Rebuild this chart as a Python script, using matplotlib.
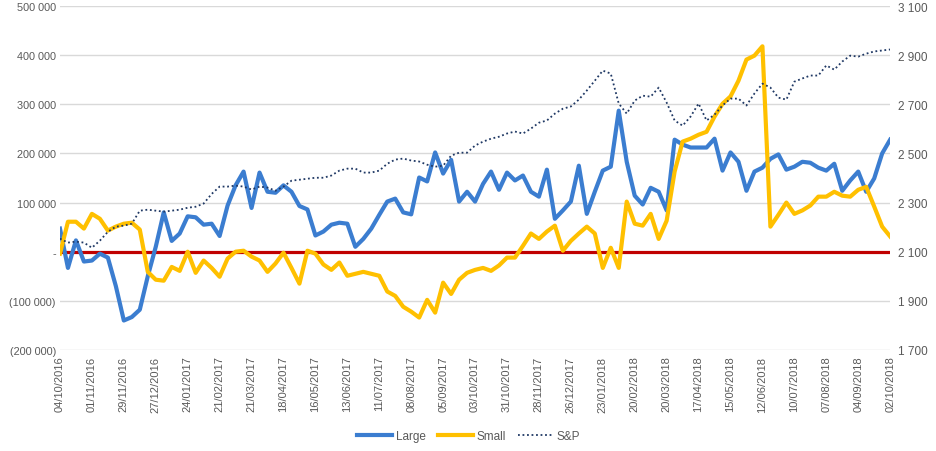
import pandas as pd
import matplotlib
matplotlib.use('Agg')
import matplotlib.pyplot as plt
from matplotlib.ticker import FuncFormatter, FixedLocator

plt.rcParams['font.family'] = ['Liberation Sans', 'DejaVu Sans']

# weekly dates, 04/10/2016 -> 02/10/2018
datas = pd.date_range('2016-10-04', periods=105, freq='7D')
rotulos = [d.strftime('%d/%m/%Y') for d in datas]

large = [47000, -33000, 23000, -20000, -18000, -4000, -12000, -70000, -140000, -133000,
         -118000, -50000, 10000, 80000, 22000, 37000, 72000, 70000, 55000, 57000,
         32000, 94000, 135000, 163000, 89000, 161000, 122000, 120000, 135000, 122000,
         93000, 86000, 33000, 41000, 55000, 59000, 57000, 10000, 26000, 47000,
         75000, 102000, 108000, 80000, 76000, 151000, 143000, 202000, 159000, 187000,
         102000, 122000, 102000, 138000, 163000, 126000, 161000, 145000, 155000, 122000,
         112000, 167000, 67000, 84000, 102000, 175000, 77000, 122000, 165000, 173000,
         287000, 183000, 114000, 96000, 130000, 122000, 84000, 228000, 218000, 212000,
         212000, 212000, 230000, 165000, 202000, 183000, 124000, 163000, 171000, 189000,
         198000, 167000, 173000, 183000, 181000, 171000, 165000, 179000, 124000, 145000,
         163000, 122000, 149000, 200000, 228000]

small = [-4000, 61000, 61000, 47000, 77000, 67000, 43000, 51000, 57000, 59000,
         45000, -41000, -57000, -59000, -31000, -39000, 0, -43000, -18000, -33000,
         -51000, -14000, 0, 2000, -10000, -18000, -41000, -24000, -2000, -33000,
         -65000, 2000, -4000, -26000, -37000, -22000, -49000, -45000, -41000, -45000,
         -49000, -81000, -90000, -112000, -122000, -134000, -98000, -124000, -63000, -86000,
         -57000, -43000, -37000, -33000, -39000, -28000, -12000, -12000, 12000, 37000,
         26000, 41000, 53000, 2000, 22000, 37000, 51000, 37000, -33000, 8000,
         -33000, 102000, 57000, 53000, 77000, 26000, 63000, 163000, 224000, 230000,
         238000, 244000, 275000, 301000, 316000, 348000, 391000, 399000, 418000, 51000,
         75000, 100000, 77000, 84000, 94000, 112000, 112000, 122000, 114000, 112000,
         126000, 132000, 92000, 51000, 31000]

sp = [2153, 2137, 2141, 2137, 2116, 2145, 2181, 2202, 2206, 2214,
      2267, 2271, 2267, 2263, 2267, 2271, 2279, 2283, 2296, 2335,
      2365, 2365, 2369, 2365, 2353, 2365, 2361, 2348, 2365, 2389,
      2393, 2397, 2401, 2401, 2410, 2430, 2438, 2438, 2422, 2422,
      2430, 2458, 2475, 2479, 2471, 2467, 2454, 2446, 2450, 2491,
      2503, 2503, 2532, 2548, 2560, 2568, 2581, 2589, 2581, 2601,
      2625, 2634, 2662, 2682, 2691, 2719, 2756, 2796, 2837, 2825,
      2703, 2662, 2715, 2735, 2731, 2768, 2707, 2634, 2613, 2650,
      2703, 2634, 2658, 2695, 2723, 2723, 2695, 2744, 2784, 2768,
      2727, 2719, 2792, 2805, 2817, 2817, 2858, 2841, 2874, 2898,
      2894, 2906, 2915, 2919, 2923]


def fmt_esq(v, pos):
    if abs(v) < 1:
        return '-'
    s = f'{abs(v):,.0f}'.replace(',', ' ')
    return f'({s})' if v < 0 else s


def fmt_dir(v, pos):
    return f'{v:,.0f}'.replace(',', ' ')


fig = plt.figure(figsize=(9.37, 4.52), dpi=100)
ax = fig.add_axes([0.064, 0.2235, 0.886, 0.761])
ax2 = ax.twinx()

x = list(range(len(rotulos)))
cinza = '#595959'

ax.grid(axis='y', color='#d9d9d9', lw=1)
ax.set_axisbelow(True)
ax.axhline(0, color='#c00000', lw=2.3, zorder=2)
l1, = ax.plot(x, large, color='#3b7dd0', lw=3, label='Large', zorder=3, solid_joinstyle='round')
l2, = ax.plot(x, small, color='#ffc000', lw=3, label='Small', zorder=3, solid_joinstyle='round')
l3, = ax2.plot(x, sp, color='#1f3864', lw=1.3, ls=(0, (1, 1.5)), label='S&P')

ax.set_xlim(0, len(x) - 1)
ax.set_ylim(-200000, 500000)
ax.yaxis.set_major_locator(FixedLocator(range(-200000, 500001, 100000)))
ax.yaxis.set_major_formatter(FuncFormatter(fmt_esq))
ax2.set_ylim(1700, 3100)
ax2.yaxis.set_major_locator(FixedLocator(range(1700, 3101, 200)))
ax2.yaxis.set_major_formatter(FuncFormatter(fmt_dir))

ax.set_xticks(x[::4])
ax.set_xticklabels(rotulos[::4], rotation=90, fontsize=8, color=cinza)

for a in (ax, ax2):
    for s in a.spines.values():
        s.set_visible(False)
    a.tick_params(length=0, labelsize=8.5, labelcolor=cinza)
ax.tick_params(axis='x', pad=4, labelsize=8)
ax.tick_params(axis='y', pad=3, labelsize=7.8)
ax2.tick_params(axis='y', pad=6)

fig.legend(handles=[l1, l2, l3], loc='center', bbox_to_anchor=(0.5, 0.033), ncol=3,
           frameon=False, fontsize=8.5, handlelength=3.0, columnspacing=1.0,
           handletextpad=0.3, labelcolor=cinza)

fig.savefig('out.png', dpi=100)
